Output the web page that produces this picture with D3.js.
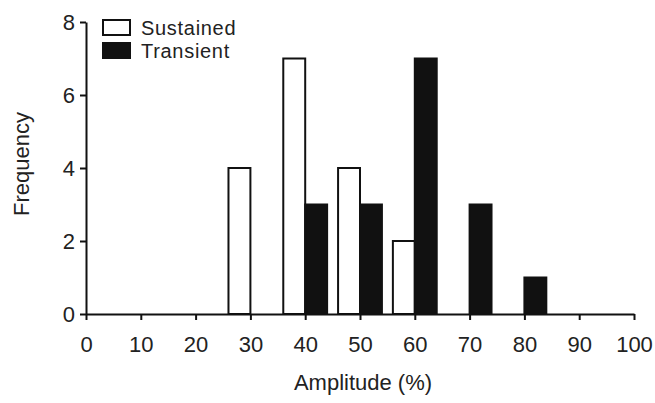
<!DOCTYPE html>
<html>
<head>
<meta charset="utf-8">
<script src="https://cdn.jsdelivr.net/npm/d3@7"></script>
<style>
  body { margin: 0; background: #fff; }
  svg { font-family: "Liberation Sans", Arial, sans-serif; }
</style>
</head>
<body>
<svg id="chart" width="655" height="403"></svg>
<script>
// data
const bins = [30, 40, 50, 60, 70, 80];
const sustained = [4, 7, 4, 2, 0, 0];
const transient = [0, 3, 3, 7, 3, 1];
const xTicks = [0, 10, 20, 30, 40, 50, 60, 70, 80, 90, 100];
const yTicks = [0, 2, 4, 6, 8];
const barWidth = 4; // in amplitude units

let svg = d3.select("#chart");
let x = d3.scaleLinear().domain([0, 100]).range([86, 634]);
let y = d3.scaleLinear().domain([0, 8]).range([314, 22]);

// bars
let sData = bins.map((b, i) => ({ bin: b, value: sustained[i] })).filter(d => d.value > 0);
let tData = bins.map((b, i) => ({ bin: b, value: transient[i] })).filter(d => d.value > 0);

svg.append("g").selectAll("rect")
  .data(sData)
  .enter().append("rect")
  .attr("x", d => x(d.bin - barWidth))
  .attr("y", d => y(d.value))
  .attr("width", d => x(d.bin) - x(d.bin - barWidth))
  .attr("height", d => y(0) - y(d.value))
  .attr("fill", "#fff")
  .attr("stroke", "#111")
  .attr("stroke-width", 2);

svg.append("g").selectAll("rect")
  .data(tData)
  .enter().append("rect")
  .attr("x", d => x(d.bin))
  .attr("y", d => y(d.value))
  .attr("width", d => x(d.bin + barWidth) - x(d.bin))
  .attr("height", d => y(0) - y(d.value))
  .attr("fill", "#111")
  .attr("stroke", "#111")
  .attr("stroke-width", 2);

// axes
let xAxis = svg.append("g")
  .attr("transform", "translate(0," + y(0) + ")")
  .call(d3.axisBottom(x).tickValues(xTicks).tickSize(6).tickSizeOuter(0).tickPadding(16));

let yAxis = svg.append("g")
  .attr("transform", "translate(" + x(0) + ",0)")
  .call(d3.axisLeft(y).tickValues(yTicks).tickSize(6).tickSizeOuter(0).tickPadding(5));

[xAxis, yAxis].forEach(a => {
  a.select(".domain").attr("stroke", "#111").attr("stroke-width", 2);
  a.selectAll(".tick line").attr("stroke", "#111").attr("stroke-width", 2);
  a.selectAll(".tick text").attr("fill", "#222").style("font-size", "22px");
});

// axis titles
svg.append("text")
  .attr("x", 363)
  .attr("y", 390)
  .attr("text-anchor", "middle")
  .style("font-size", "22px")
  .attr("fill", "#222")
  .text("Amplitude (%)");

svg.append("text")
  .attr("transform", "translate(29,164) rotate(-90)")
  .attr("text-anchor", "middle")
  .style("font-size", "22px")
  .attr("fill", "#222")
  .text("Frequency");

// legend
let legend = [
  { name: "Sustained", fill: "#fff", y: 20 },
  { name: "Transient", fill: "#111", y: 43 }
];
let lg = svg.append("g");
lg.selectAll("rect")
  .data(legend)
  .enter().append("rect")
  .attr("x", 103)
  .attr("y", d => d.y)
  .attr("width", 27)
  .attr("height", 15)
  .attr("fill", d => d.fill)
  .attr("stroke", "#111")
  .attr("stroke-width", 2);
lg.selectAll("text")
  .data(legend)
  .enter().append("text")
  .attr("x", 141)
  .attr("y", d => d.y + 15)
  .style("font-size", "20px")
  .style("letter-spacing", "0.7px")
  .attr("fill", "#222")
  .text(d => d.name);
</script>
</body>
</html>
